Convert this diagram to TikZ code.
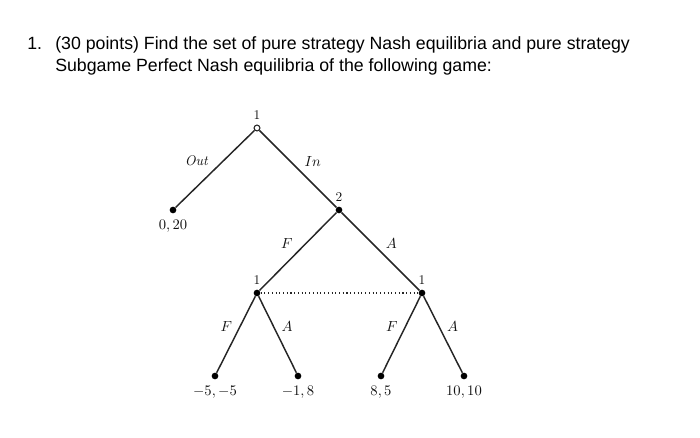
\documentclass[tikz,border=0pt]{standalone}
\usepackage{fontspec}
\usepackage{xcolor}
\usetikzlibrary{positioning}
\newfontfamily\headfont{Liberation Sans}
\definecolor{BranchInk}{HTML}{262626}
\definecolor{TextInk}{HTML}{111111}

\begin{document}
\begin{tikzpicture}[x=0.75pt,y=-0.75pt,
    rootdot/.style={circle,draw=BranchInk,fill=white,line width=0.8pt,inner sep=0pt,minimum size=4.4pt},
    decdot/.style={circle,fill=black,inner sep=0pt,minimum size=5pt},
    branch/.style={draw=BranchInk,line width=1.1pt},
    movelabel/.style={font=\fontsize{10.5}{12}\selectfont,text=TextInk,inner sep=1.5pt},
    payoff/.style={font=\fontsize{10.5}{12}\selectfont,text=TextInk,below=1pt},
    player/.style={font=\fontsize{10}{11}\selectfont,text=TextInk,above=0.5pt},
    question/.style={anchor=base west,font=\headfont\fontsize{13.3}{15}\selectfont,text=black,inner sep=0pt}]
    \useasboundingbox (0,0) rectangle (700,438);

    % question text
    \node[question] (qnum) at (27,50) {1.};
    \node[question] (qline1) at (55,50) {(30 points) Find the set of pure strategy Nash equilibria and pure strategy};
    \node[question] (qline2) at (55,72) {Subgame Perfect Nash equilibria of the following game:};

    % decision nodes
    \node[rootdot] (root) at (257,128) {};
    \node[decdot] (out) at (173,210) {};
    \node[decdot] (p2) at (339,210) {};
    \node[decdot] (p1l) at (257,293) {};
    \node[decdot] (p1r) at (422,293) {};
    \node[decdot] (ff) at (215,376) {};
    \node[decdot] (fa) at (298,376) {};
    \node[decdot] (af) at (381,376) {};
    \node[decdot] (aa) at (464,376) {};

    % players
    \node[player] (lroot) at (root.north) {$1$};
    \node[player] (lp2) at (p2.north) {$2$};
    \node[player] (lp1l) at (p1l.north) {$1$};
    \node[player] (lp1r) at (p1r.north) {$1$};

    % branches
    \draw[branch] (root) -- node[movelabel,anchor=south east,xshift=-3pt] {\textit{Out}} (out);
    \draw[branch] (root) -- node[movelabel,anchor=south west,xshift=3pt] {$In$} (p2);
    \draw[branch] (p2) -- node[movelabel,anchor=south east,xshift=-2pt] {$F$} (p1l);
    \draw[branch] (p2) -- node[movelabel,anchor=south west,xshift=2pt] {$A$} (p1r);
    \draw[branch] (p1l) -- node[movelabel,anchor=south east,xshift=-1pt] {$F$} (ff);
    \draw[branch] (p1l) -- node[movelabel,anchor=south west,xshift=1pt] {$A$} (fa);
    \draw[branch] (p1r) -- node[movelabel,anchor=south east,xshift=-1pt] {$F$} (af);
    \draw[branch] (p1r) -- node[movelabel,anchor=south west,xshift=1pt] {$A$} (aa);

    % information set
    \draw[BranchInk,line width=0.8pt,dotted] (p1l) -- (p1r);

    % payoffs
    \node[payoff] (vout) at (out.south) {$0,20$};
    \node[payoff] (vff) at (ff.south) {$-5,-5$};
    \node[payoff] (vfa) at (fa.south) {$-1,8$};
    \node[payoff] (vaf) at (af.south) {$8,5$};
    \node[payoff] (vaa) at (aa.south) {$10,10$};
\end{tikzpicture}
\end{document}
